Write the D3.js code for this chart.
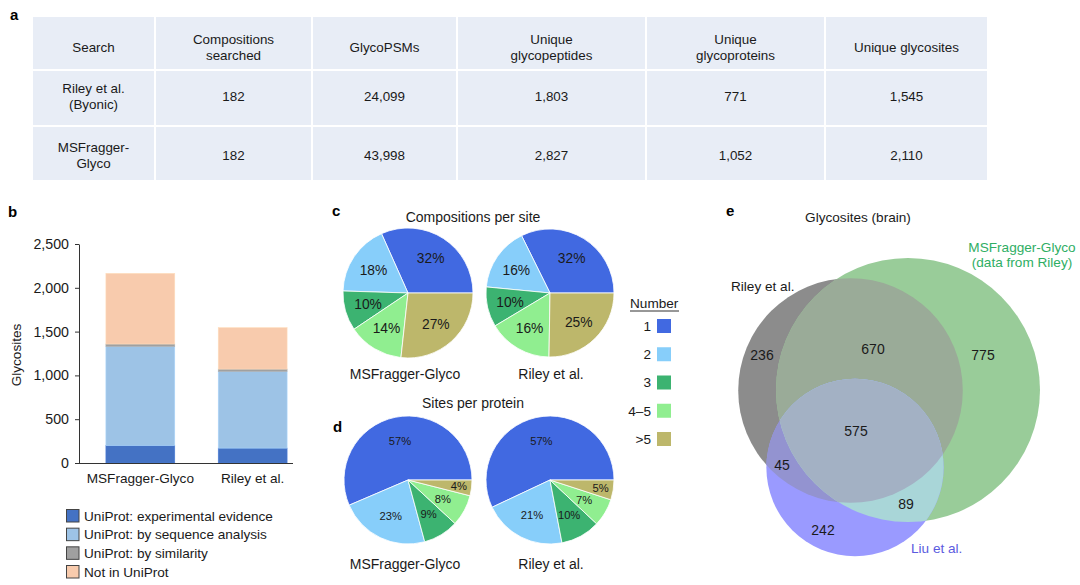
<!DOCTYPE html>
<html><head><meta charset="utf-8">
<script src="https://cdn.jsdelivr.net/npm/d3@7"></script>
<style>body{margin:0;background:#fff;} svg{display:block;font-family:"Liberation Sans",Arial,Helvetica,sans-serif;}</style>
</head><body><svg id="chart" width="1080" height="585"></svg>
<script>
// ---------------- DATA ----------------
const tableHeaders = [["Search"],["Compositions","searched"],["GlycoPSMs"],["Unique","glycopeptides"],["Unique","glycoproteins"],["Unique glycosites"]];
const tableRowRiley = [["Riley et al.","(Byonic)"],["182"],["24,099"],["1,803"],["771"],["1,545"]];
const tableRowMSF = [["MSFragger-","Glyco"],["182"],["43,998"],["2,827"],["1,052"],["2,110"]];

const barCategories = ["MSFragger-Glyco","Riley et al."];
const barSeries = ["UniProt: experimental evidence","UniProt: by sequence analysis","UniProt: by similarity","Not in UniProt"];
const expEvidence = [200, 170];
const seqAnalysis = [1130, 875];
const bySimilarity = [28, 27];
const notInUniProt = [807, 473];
const yTicks = [0, 500, 1000, 1500, 2000, 2500];

const pieGroups = ["1","2","3","4–5",">5"];
const compMSF = [32, 18, 10, 14, 27];
const compRiley = [32, 16, 10, 16, 25];
const sitesMSF = [57, 23, 9, 8, 4];
const sitesRiley = [57, 21, 10, 7, 5];
const pieNames = ["MSFragger-Glyco","Riley et al."];

const vennSetNames = ["Riley et al.","MSFragger-Glyco","Liu et al."];
const vennRegionKeys = ["R","RM","M","RML","RL","ML","L"];
const vennRegionValues = [236, 670, 775, 575, 45, 89, 242];

// ---------------- STYLE / LAYOUT ----------------
const svg = d3.select("#chart");
const txt = "#1a1a1a";
const FS = 13.6;
const barColors = ["#4472c4","#9dc3e6","#a0a0a0","#f8cbad"];
const pieColors = ["#4169e1","#87cefa","#3cb371","#90ee90","#bdb76b"];

function panelLetter(s, x, y){
  svg.append("text").attr("x",x).attr("y",y).attr("font-weight","bold").attr("font-size",15).attr("fill","#000").text(s);
}
function multiText(g, lines, x, cy, size, anchor="middle", lh=16, fill=txt){
  const t = g.append("text").attr("x",x).attr("text-anchor",anchor).attr("font-size",size).attr("fill",fill);
  const y0 = cy - (lines.length-1)*lh/2;
  lines.forEach((l,i)=>t.append("tspan").attr("x",x).attr("y",y0+i*lh).attr("dy","0.35em").text(l));
  return t;
}

// ---------------- a: TABLE ----------------
panelLetter("a", 10, 20);
const colEdges = [33,155,312,457,646,825,988];
const rowBands = [{y0:17,y1:69,cy:47},{y0:71,y1:125,cy:96},{y0:127,y1:180,cy:155}];
const tableData = [tableHeaders, tableRowRiley, tableRowMSF];
const tg = svg.append("g");
tableData.forEach((row, ri)=>{
  const b = rowBands[ri];
  row.forEach((cell, ci)=>{
    const x0 = colEdges[ci]+ (ci===0?0:1), x1 = colEdges[ci+1]-1;
    tg.append("rect").attr("x",x0).attr("y",b.y0).attr("width",x1-x0).attr("height",b.y1-b.y0).attr("fill","#e8edf6");
    multiText(tg, cell, (x0+x1)/2, b.cy, 13.4);
  });
});

// ---------------- b: STACKED BAR ----------------
panelLetter("b", 8, 217);
const y = d3.scaleLinear().domain([0,2500]).range([463,244]);
const x = d3.scaleBand().domain(barCategories).range([84,309]).paddingInner(0.387).paddingOuter(0.195);
const barRows = barCategories.map((c,i)=>({cat:c, s0:expEvidence[i], s1:seqAnalysis[i], s2:bySimilarity[i], s3:notInUniProt[i]}));
const stack = d3.stack().keys(["s0","s1","s2","s3"])(barRows);
const bg = svg.append("g");
stack.forEach((layer, li)=>{
  bg.selectAll(null).data(layer).join("rect")
    .attr("x", d=>x(d.data.cat)).attr("width", x.bandwidth())
    .attr("y", d=>y(d[1])).attr("height", d=>y(d[0])-y(d[1]))
    .attr("fill", barColors[li]).attr("stroke", d3.color(barColors[li]).brighter(0.25)).attr("stroke-width",0.6);
});
const yAxis = svg.append("g").attr("transform","translate(79,0)")
  .call(d3.axisLeft(y).tickValues(yTicks).tickSize(4).tickSizeOuter(0).tickPadding(6).tickFormat(d3.format(",")));
yAxis.selectAll("text").attr("font-size",14.2).attr("fill",txt).attr("font-family","Liberation Sans, Arial, sans-serif");
yAxis.selectAll("line,path").attr("stroke","#333");
svg.append("line").attr("x1",79).attr("x2",293).attr("y1",y(0)+0.5).attr("y2",y(0)+0.5).attr("stroke","#333");
barCategories.forEach(c=>{
  svg.append("text").attr("x", x(c)+x.bandwidth()/2).attr("y",478).attr("dy","0.35em").attr("text-anchor","middle")
    .attr("font-size",FS).attr("fill",txt).text(c);
});
svg.append("text").attr("transform","translate(16,355) rotate(-90)").attr("text-anchor","middle").attr("dy","0.35em")
  .attr("font-size",FS).attr("fill",txt).text("Glycosites");
// legend
const legY = d3.scalePoint().domain(barSeries).range([516,572]);
barSeries.forEach((s,i)=>{
  svg.append("rect").attr("x",66.5).attr("y",legY(s)-6.5).attr("width",12.5).attr("height",12.5)
    .attr("fill",barColors[i]).attr("stroke","#444").attr("stroke-width",1);
  svg.append("text").attr("x",84).attr("y",legY(s)).attr("dy","0.35em").attr("font-size",FS).attr("fill",txt).text(s);
});

// ---------------- c, d: PIES ----------------
panelLetter("c", 332, 216);
panelLetter("d", 333, 432);
svg.append("text").attr("x",473).attr("y",217).attr("dy","0.35em").attr("text-anchor","middle").attr("font-size",14).attr("fill",txt).text("Compositions per site");
svg.append("text").attr("x",473).attr("y",403).attr("dy","0.35em").attr("text-anchor","middle").attr("font-size",14).attr("fill",txt).text("Sites per protein");

const pie = d3.pie().sort(null).startAngle(Math.PI/2).endAngle(Math.PI/2 - 2*Math.PI);
function drawPie(cx, cy, r, values, fsize, lfrac, smallFrac){
  const g = svg.append("g").attr("transform",`translate(${cx},${cy})`);
  const arcs = pie(values);
  const arc = d3.arc().innerRadius(0).outerRadius(r);
  g.selectAll("path").data(arcs).join("path").attr("d",arc)
    .attr("fill",(d,i)=>pieColors[i]).attr("stroke","#fff").attr("stroke-width",0.8);
  arcs.forEach((d,i)=>{
    const lr = values[i] <= 5 ? r*smallFrac : r*lfrac;
    const la = d3.arc().innerRadius(lr).outerRadius(lr);
    const [lx,ly] = la.centroid(d);
    g.append("text").attr("x",lx).attr("y",ly).attr("dy","0.35em").attr("text-anchor","middle")
      .attr("font-size",fsize).attr("fill",txt).text(values[i]+"%");
  });
}
drawPie(408, 293, 65, compMSF, 13.8, 0.64, 0.64);
drawPie(550, 293, 64, compRiley, 13.8, 0.64, 0.64);
drawPie(408, 480, 64, sitesMSF, 11.2, 0.62, 0.8);
drawPie(550, 480, 64, sitesRiley, 11.2, 0.62, 0.8);
[[405,374],[551,374],[405,564],[551,564]].forEach((p,i)=>{
  svg.append("text").attr("x",p[0]).attr("y",p[1]).attr("dy","0.35em").attr("text-anchor","middle")
    .attr("font-size",14).attr("fill",txt).text(pieNames[i%2]);
});
// Number legend
svg.append("text").attr("x",630).attr("y",303).attr("dy","0.35em").attr("font-size",FS).attr("fill",txt).text("Number");
svg.append("line").attr("x1",630).attr("x2",679).attr("y1",311).attr("y2",311).attr("stroke",txt).attr("stroke-width",0.9);
const numY = d3.scalePoint().domain(pieGroups).range([326,439]);
pieGroups.forEach((g,i)=>{
  svg.append("text").attr("x",651).attr("y",numY(g)).attr("dy","0.35em").attr("text-anchor","end").attr("font-size",FS).attr("fill",txt).text(g);
  svg.append("rect").attr("x",657).attr("y",numY(g)-7).attr("width",14).attr("height",14).attr("fill",pieColors[i]);
});

// ---------------- e: VENN ----------------
panelLetter("e", 726, 216);
svg.append("text").attr("x",858).attr("y",217).attr("dy","0.35em").attr("text-anchor","middle").attr("font-size",FS).attr("fill",txt).text("Glycosites (brain)");
const reg = Object.fromEntries(vennRegionKeys.map((k,i)=>[k, vennRegionValues[i]]));
const setSize = {
  R: reg.R + reg.RM + reg.RML + reg.RL,
  M: reg.M + reg.RM + reg.RML + reg.ML,
  L: reg.L + reg.RL + reg.RML + reg.ML
};
const rScale = d3.scaleSqrt().domain([0, setSize.M]).range([0, 132]);
const vennCenters = {R:[850.5,390.5], M:[908,390], L:[855,467.5]};
const circ = k => ({cx:vennCenters[k][0], cy:vennCenters[k][1], r:rScale(setSize[k])});
const defs = svg.append("defs");
["R","M","L"].forEach(k=>{
  const c = circ(k);
  defs.append("clipPath").attr("id","clip"+k).append("circle").attr("cx",c.cx).attr("cy",c.cy).attr("r",c.r);
});
const vg = svg.append("g");
function vc(parent, k, fill, clip){
  const c = circ(k);
  const el = parent.append("circle").attr("cx",c.cx).attr("cy",c.cy).attr("r",c.r).attr("fill",fill);
  if(clip) el.attr("clip-path",`url(#clip${clip})`);
  return el;
}
vc(vg,"R","#8c8c8c");
vc(vg,"M","#99cc99");
vc(vg,"M","#9aab98","R");
vc(vg,"L","#9a9aff");
vc(vg,"L","#9393d0","R");
vc(vg,"L","#a9d6d8","M");
vc(vg.append("g").attr("clip-path","url(#clipR)"),"L","#a3b1c4","M");

const vennLabelPos = {R:[762,355], RM:[873,349], M:[983,355], RML:[856,431], RL:[782,465], ML:[906,504], L:[823,530]};
vennRegionKeys.forEach((k,i)=>{
  svg.append("text").attr("x",vennLabelPos[k][0]).attr("y",vennLabelPos[k][1]).attr("dy","0.35em").attr("text-anchor","middle")
    .attr("font-size",14).attr("fill",txt).text(vennRegionValues[i]);
});
svg.append("text").attr("x",731).attr("y",286).attr("dy","0.35em").attr("font-size",FS).attr("fill",txt).text(vennSetNames[0]);
multiText(svg, [vennSetNames[1],"(data from Riley)"], 1022, 254.5, FS, "middle", 15.5, "#2fae64");
svg.append("text").attr("x",911).attr("y",548).attr("dy","0.35em").attr("font-size",FS).attr("fill","#5b5be0").text(vennSetNames[2]);
</script></body></html>
